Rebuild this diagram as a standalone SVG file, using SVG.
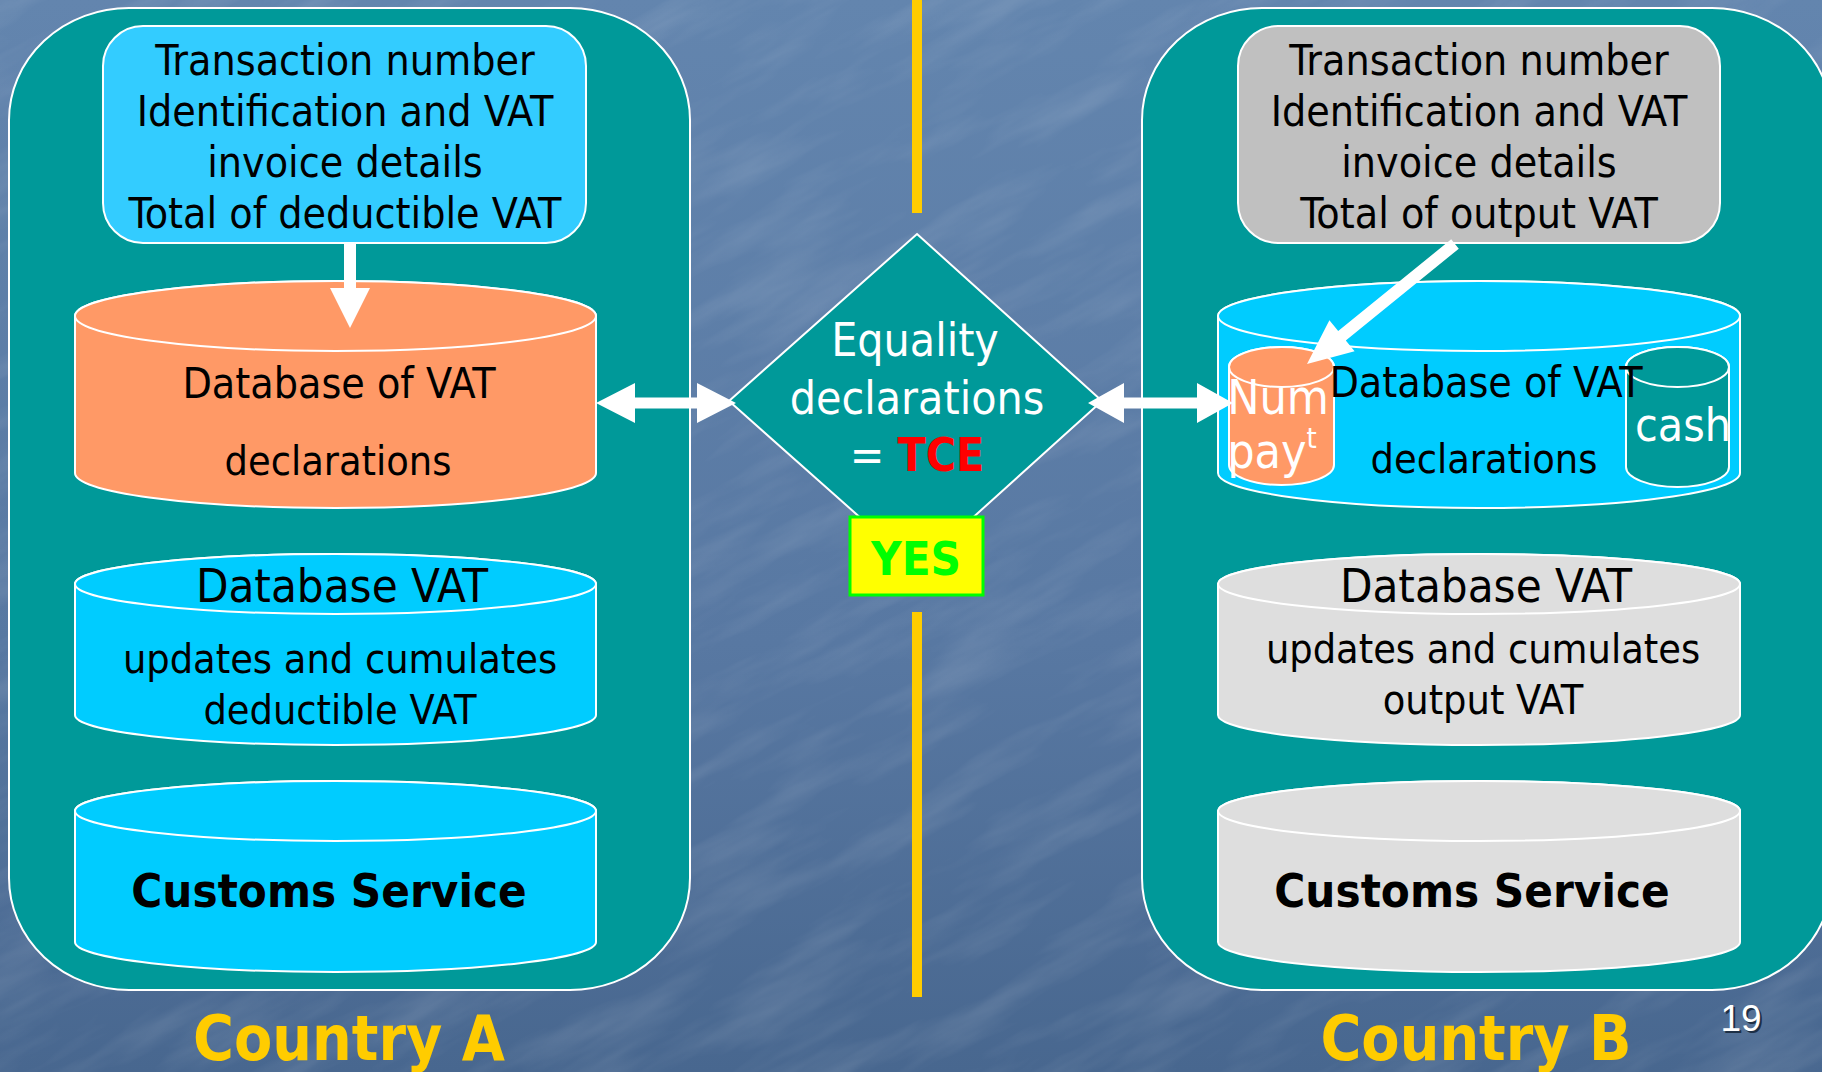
<svg xmlns="http://www.w3.org/2000/svg" width="1822" height="1072" viewBox="0 0 1822 1072">
<defs>
<linearGradient id="bg" x1="0" y1="0" x2="0" y2="1">
<stop offset="0" stop-color="#6385ae"/>
<stop offset="0.6" stop-color="#5878a2"/>
<stop offset="1" stop-color="#48678f"/>
</linearGradient>
<filter id="tex" x="0" y="0" width="100%" height="100%">
<feTurbulence type="fractalNoise" baseFrequency="0.006 0.03" numOctaves="4" seed="7"/>
<feColorMatrix type="matrix" values="0 0 0 0 1  0 0 0 0 1  0 0 0 0 1  1.6 0 0 0 -0.7"/>
</filter>
<style>
.t{font-family:'DejaVu Sans Condensed','DejaVu Sans',sans-serif;font-stretch:condensed;text-anchor:middle}
.b{font-weight:bold}
.blk{fill:#000}
.wht{fill:#fff}
.ln{stroke:#fff;stroke-width:2}
.panel{fill:#009999;stroke:#fff;stroke-width:2}
.cyan{fill:#00ccff}
.orange{fill:#ff9966}
.gray{fill:#dedede}
.teal{fill:#009999}
.arrow{fill:#fff}
.divider{fill:#ffcc00}
.country{fill:#ffcc00;font-size:62px;font-weight:bold}
.bx{font-size:42.5px}
</style>
</defs>
<rect x="0" y="0" width="1822" height="1072" fill="url(#bg)"/>
<g transform="rotate(-28 911 536)" opacity="0.15">
<rect x="-500" y="-600" width="2822" height="2272" fill="#fff" filter="url(#tex)"/>
</g>

<g id="dividers">
<rect class="divider" x="912" y="0" width="10" height="213"/>
<rect class="divider" x="912" y="612" width="10" height="385"/>
</g>

<g id="panel-a"><rect class="panel" x="9" y="8" width="681" height="982" rx="120" ry="112"/></g>
<g id="panel-b"><rect class="panel" x="1142" y="8" width="690" height="982" rx="120" ry="112"/></g>

<g id="box-a">
<rect x="103" y="26" width="483" height="217" rx="40" ry="40" fill="#33ccff" class="ln"/>
<text class="t blk bx" x="345" y="75">Transaction number</text>
<text class="t blk bx" x="345" y="126">Identification and VAT</text>
<text class="t blk bx" x="345" y="177">invoice details</text>
<text class="t blk bx" x="345" y="228">Total of deductible VAT</text>
</g>

<g id="box-b">
<rect x="1238" y="26" width="482" height="217" rx="40" ry="40" fill="#c0c0c0" class="ln"/>
<text class="t blk bx" x="1479" y="75">Transaction number</text>
<text class="t blk bx" x="1479" y="126">Identification and VAT</text>
<text class="t blk bx" x="1479" y="177">invoice details</text>
<text class="t blk bx" x="1479" y="228">Total of output VAT</text>
</g>

<g id="db-decl-a">
<path class="orange ln" d="M75,316 V473 A260.5,35 0 0 0 596,473 V316 A260.5,35 0 0 0 75,316 Z"/>
<ellipse class="orange ln" cx="335.5" cy="316" rx="260.5" ry="35"/>
<text class="t blk" font-size="42.5" x="339" y="398">Database of VAT</text>
<text class="t blk" font-size="41" x="338" y="475">declarations</text>
</g>

<g id="db-update-a">
<path class="cyan ln" d="M75,584 V715 A260.5,30 0 0 0 596,715 V584 A260.5,30 0 0 0 75,584 Z"/>
<ellipse class="cyan ln" cx="335.5" cy="584" rx="260.5" ry="30"/>
<text class="t blk" font-size="47" x="342" y="602">Database VAT</text>
<text class="t blk" font-size="41" x="340" y="673">updates and cumulates</text>
<text class="t blk" font-size="41" x="340" y="724">deductible VAT</text>
</g>

<g id="db-customs-a">
<path class="cyan ln" d="M75,811 V942 A260.5,30 0 0 0 596,942 V811 A260.5,30 0 0 0 75,811 Z"/>
<ellipse class="cyan ln" cx="335.5" cy="811" rx="260.5" ry="30"/>
<text class="t b blk" font-size="47" x="329" y="907">Customs Service</text>
</g>

<g id="db-decl-b">
<path class="cyan ln" d="M1218,316 V473 A261,35 0 0 0 1740,473 V316 A261,35 0 0 0 1218,316 Z"/>
<ellipse class="cyan ln" cx="1479" cy="316" rx="261" ry="35"/>
<g id="num-pay">
<path class="orange ln" d="M1229,367 V465 A52.5,20 0 0 0 1334,465 V367 A52.5,20 0 0 0 1229,367 Z"/>
<ellipse class="orange ln" cx="1281.5" cy="367" rx="52.5" ry="20"/>
</g>
<g id="cash">
<path class="teal ln" d="M1626,367 V467 A51.5,20 0 0 0 1729,467 V367 A51.5,20 0 0 0 1626,367 Z"/>
<ellipse class="teal ln" cx="1677.5" cy="367" rx="51.5" ry="20"/>
</g>
<text class="t blk" font-size="42.5" x="1486" y="397">Database of VAT</text>
<text class="t blk" font-size="41" x="1484" y="473">declarations</text>
<text class="t wht" font-size="48" x="1278" y="414">Num</text>
<text class="t wht" font-size="48" x="1272" y="468">pay<tspan font-size="29" dy="-20">t</tspan></text>
<text class="t wht" font-size="46" x="1683" y="441">cash</text>
</g>

<g id="db-update-b">
<path class="gray ln" d="M1218,584 V715 A261,30 0 0 0 1740,715 V584 A261,30 0 0 0 1218,584 Z"/>
<ellipse class="gray ln" cx="1479" cy="584" rx="261" ry="30"/>
<text class="t blk" font-size="47" x="1486" y="602">Database VAT</text>
<text class="t blk" font-size="41" x="1483" y="663">updates and cumulates</text>
<text class="t blk" font-size="41" x="1483" y="714">output VAT</text>
</g>

<g id="db-customs-b">
<path class="gray ln" d="M1218,811 V942 A261,30 0 0 0 1740,942 V811 A261,30 0 0 0 1218,811 Z"/>
<ellipse class="gray ln" cx="1479" cy="811" rx="261" ry="30"/>
<text class="t b blk" font-size="47" x="1472" y="907">Customs Service</text>
</g>

<g id="decision">
<polygon points="917,234 1102,401 917,568 729,401" fill="#009999" stroke="#fff" stroke-width="2"/>
<text class="t wht" font-size="46" x="915" y="356">Equality</text>
<text class="t wht" font-size="46" x="917" y="414">declarations</text>
<text class="t" font-size="46" x="917" y="471"><tspan class="wht">= </tspan><tspan class="b" fill="#ff0000">TCE</tspan></text>
</g>

<g id="yes">
<rect x="850" y="517" width="133" height="78" fill="#ffff00" stroke="#00ff00" stroke-width="3"/>
<text class="t b" font-size="47" x="916" y="575" fill="#00ff00">YES</text>
</g>

<g id="connectors">
<path class="arrow" d="M344,243 H356 V288 H370 L350,328 L330,288 H344 Z"/>
<path class="arrow" d="M1451.2,239.3 L1338.2,331 L1329.4,320.2 L1307,364 L1354.6,351.2 L1345.8,340.4 L1458.8,248.7 Z"/>
<path class="arrow" d="M596,403 L635,383 V397.5 H697 V383 L736,403 L697,423 V408.5 H635 V423 Z"/>
<path class="arrow" d="M1088,403 L1124,383 V397.5 H1197 V383 L1233,403 L1197,423 V408.5 H1124 V423 Z"/>
</g>

<g id="labels">
<text class="t country" x="349" y="1060">Country A</text>
<text class="t country" x="1476" y="1060">Country B</text>
<text x="1743" y="1033" font-family="'Liberation Sans Narrow','Liberation Sans',sans-serif" font-size="37" text-anchor="middle" fill="#1d2f45">19</text>
<text x="1741" y="1031" font-family="'Liberation Sans Narrow','Liberation Sans',sans-serif" font-size="37" text-anchor="middle" fill="#fff">19</text>
</g>
</svg>
